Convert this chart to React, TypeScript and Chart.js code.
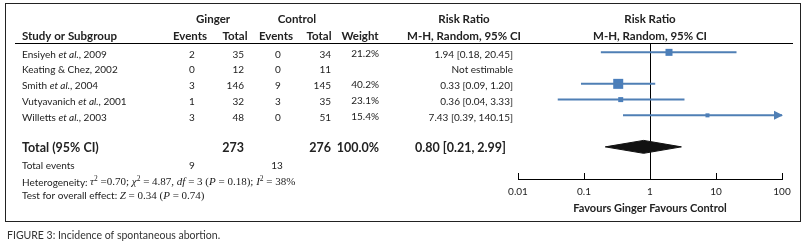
import { useEffect, useRef } from 'react';
import { Chart, registerables } from 'chart.js';

Chart.register(...registerables);

// ---------------- data ----------------
const studies = [
  'Ensiyeh et al., 2009',
  'Keating & Chez, 2002',
  'Smith et al., 2004',
  'Vutyavanich et al., 2001',
  'Willetts et al., 2003',
];
const gingerEvents = [2, 0, 3, 1, 3];
const gingerTotal = [35, 12, 146, 32, 48];
const controlEvents = [0, 0, 9, 3, 0];
const controlTotal = [34, 11, 145, 35, 51];
const weights: (number | null)[] = [21.2, null, 40.2, 23.1, 15.4];
const riskRatio: (number | null)[] = [1.94, null, 0.33, 0.36, 7.43];
const ciLower: (number | null)[] = [0.18, null, 0.09, 0.04, 0.39];
const ciUpper: (number | null)[] = [20.45, null, 1.2, 3.33, 140.15];

const pooledRR = 0.8;
const pooledLower = 0.21;
const pooledUpper = 2.99;
const totalGinger = 273;
const totalControl = 276;
const totalWeight = 100.0;
const totalEventsGinger = 9;
const totalEventsControl = 13;
const tau2 = 0.7;
const chi2 = 4.87;
const hetDf = 3;
const hetP = 0.18;
const iSquared = 38;
const zValue = 0.34;
const zP = 0.74;

const tickValues = [0.01, 0.1, 1, 10, 100];
const tickLabels = ['0.01', '0.1', '1', '10', '100'];
const axisTitle = 'Favours Ginger Favours Control';
const caption = 'FIGURE 3: Incidence of spontaneous abortion.';

// ---------------- style ----------------
const boxSide = [7, 0, 10, 5, 4];
const SQUARE_BLUE = '#4a7ebb';
const LINE_BLUE = '#4f7fb5';
const TEXT = '#222';
const TOTAL_ROW = 6;
const DIAMOND_HALF = 0.41;
const SANS = 'Lato';
const SERIF = '"Liberation Serif"';

type Seg = { t: string; font: string; dy?: number; w?: number };

function drawRich(ctx: CanvasRenderingContext2D, segs: Seg[], x: number, y: number, align: 'left' | 'center' | 'right' = 'left') {
  let total = 0;
  segs.forEach((s) => {
    ctx.font = s.font;
    s.w = ctx.measureText(s.t).width;
    total += s.w;
  });
  let cx = align === 'right' ? x - total : align === 'center' ? x - total / 2 : x;
  ctx.textAlign = 'left';
  ctx.textBaseline = 'middle';
  segs.forEach((s) => {
    ctx.font = s.font;
    ctx.fillText(s.t, cx, y + (s.dy || 0));
    cx += s.w || 0;
  });
}

function txt(ctx: CanvasRenderingContext2D, t: string, font: string, x: number, y: number, align: 'left' | 'center' | 'right' = 'left') {
  drawRich(ctx, [{ t, font }], x, y, align);
}

const fRow = `10px ${SANS}`;
const fRowI = `italic 10px ${SANS}`;
const fHead = `bold 11.5px ${SANS}`;
const fBold = `bold 12.5px ${SANS}`;
const fRR = `10px ${SANS}`;

function studySegs(name: string): Seg[] {
  const idx = name.indexOf('et al.');
  if (idx < 0) return [{ t: name, font: fRow }];
  return [
    { t: name.slice(0, idx), font: fRow },
    { t: 'et al.', font: fRowI },
    { t: name.slice(idx + 6), font: fRow },
  ];
}

const forestText = {
  id: 'forestText',
  afterDraw(chart: any) {
    const ctx: CanvasRenderingContext2D = chart.ctx;
    const ys = chart.scales.y;
    const xs = chart.scales.x;
    const area = chart.chartArea;
    ctx.save();

    // frame
    ctx.strokeStyle = '#222';
    ctx.lineWidth = 1;
    ctx.strokeRect(5.5, 3.5, 795, 218);
    // header rule
    ctx.beginPath();
    ctx.moveTo(15, 43.5);
    ctx.lineTo(793, 43.5);
    ctx.strokeStyle = '#000';
    ctx.stroke();

    // upward tick marks
    ctx.beginPath();
    xs.ticks.forEach((_t: any, i: number) => {
      const px = Math.round(xs.getPixelForTick(i)) + 0.5;
      ctx.moveTo(px, area.bottom - 6);
      ctx.lineTo(px, area.bottom);
    });
    ctx.stroke();

    // arrows for CIs beyond axis
    ctx.fillStyle = LINE_BLUE;
    studies.forEach((_s, i) => {
      const up = ciUpper[i];
      if (up != null && up > xs.max) {
        const tip = xs.getPixelForValue(xs.max) + 1;
        const y = ys.getPixelForValue(i);
        ctx.beginPath();
        ctx.moveTo(tip, y);
        ctx.lineTo(tip - 9, y - 4.5);
        ctx.lineTo(tip - 9, y + 4.5);
        ctx.closePath();
        ctx.fill();
      }
    });

    ctx.fillStyle = TEXT;
    const mid = (area.left + area.right) / 2;
    // headers
    txt(ctx, 'Ginger', fHead, 213, 19.5, 'center');
    txt(ctx, 'Control', fHead, 297, 19.5, 'center');
    txt(ctx, 'Risk Ratio', fHead, 464, 19.5, 'center');
    txt(ctx, 'Risk Ratio', fHead, mid, 19.5, 'center');
    txt(ctx, 'Study or Subgroup', fHead, 22, 36);
    txt(ctx, 'Events', fHead, 190, 36, 'center');
    txt(ctx, 'Total', fHead, 235, 36, 'center');
    txt(ctx, 'Events', fHead, 276, 36, 'center');
    txt(ctx, 'Total', fHead, 319, 36, 'center');
    txt(ctx, 'Weight', fHead, 360, 36, 'center');
    txt(ctx, 'M-H, Random, 95% CI', fHead, 464, 36, 'center');
    txt(ctx, 'M-H, Random, 95% CI', fHead, mid, 36, 'center');

    // study rows
    studies.forEach((name, i) => {
      const y = ys.getPixelForValue(i) + 2;
      drawRich(ctx, studySegs(name), 22, y);
      txt(ctx, String(gingerEvents[i]), fRow, 192, y, 'center');
      txt(ctx, String(gingerTotal[i]), fRow, 244, y, 'right');
      txt(ctx, String(controlEvents[i]), fRow, 278, y, 'center');
      txt(ctx, String(controlTotal[i]), fRow, 331, y, 'right');
      const w = weights[i];
      if (w != null) txt(ctx, w.toFixed(1) + '%', fRow, 379, y - 1, 'right');
      const rr = riskRatio[i];
      const s = rr == null ? 'Not estimable' : `${rr.toFixed(2)} [${(ciLower[i] as number).toFixed(2)}, ${(ciUpper[i] as number).toFixed(2)}]`;
      txt(ctx, s, fRR, 513, y, 'right');
    });

    // total row
    const ty = ys.getPixelForValue(TOTAL_ROW) + 1.5;
    txt(ctx, 'Total (95% CI)', fBold, 22, ty);
    txt(ctx, String(totalGinger), fBold, 244, ty, 'right');
    txt(ctx, String(totalControl), fBold, 331, ty, 'right');
    txt(ctx, totalWeight.toFixed(1) + '%', fBold, 379, ty, 'right');
    txt(ctx, `${pooledRR.toFixed(2)} [${pooledLower.toFixed(2)}, ${pooledUpper.toFixed(2)}]`, fBold, 506, ty, 'right');

    // footer
    txt(ctx, 'Total events', fRow, 22, 166);
    txt(ctx, String(totalEventsGinger), fRow, 192, 166, 'center');
    txt(ctx, String(totalEventsControl), fRow, 277, 166, 'center');

    const sr = `11px ${SERIF}`;
    const si = `italic 11px ${SERIF}`;
    const sup = `7.5px ${SERIF}`;
    drawRich(ctx, [
      { t: 'Heterogeneity: ', font: fRow },
      { t: 'τ', font: si },
      { t: '2', font: sup, dy: -3.5 },
      { t: ' =' + tau2.toFixed(2) + '; ', font: sr },
      { t: 'χ', font: si },
      { t: '2', font: sup, dy: -3.5 },
      { t: ' = ' + chi2.toFixed(2) + ', ', font: sr },
      { t: 'df', font: si },
      { t: ' = ' + hetDf + ' (', font: sr },
      { t: 'P', font: si },
      { t: ' = ' + hetP.toFixed(2) + '); ', font: sr },
      { t: 'I', font: si },
      { t: '2', font: sup, dy: -3.5 },
      { t: ' = ' + iSquared + '%', font: sr },
    ], 22, 182.5);
    drawRich(ctx, [
      { t: 'Test for overall effect: ', font: fRow },
      { t: 'Z', font: si },
      { t: ' = ' + zValue.toFixed(2) + ' (', font: sr },
      { t: 'P', font: si },
      { t: ' = ' + zP.toFixed(2) + ')', font: sr },
    ], 22, 196);

    // caption
    ctx.fillStyle = '#333';
    txt(ctx, caption, `10.5px ${SANS}`, 7, 236);

    ctx.restore();
  },
};

export default function App() {
  const ref = useRef<HTMLCanvasElement | null>(null);

  useEffect(() => {
    document.body.style.margin = '0';
    const canvas = ref.current;
    if (!canvas) return;

    const xMax = tickValues[tickValues.length - 1];
    const ciSets: any[] = [];
    studies.forEach((_s, i) => {
      const lo = ciLower[i];
      const hi = ciUpper[i];
      if (lo == null || hi == null) return;
      ciSets.push({
        showLine: true,
        data: [
          { x: lo, y: i },
          { x: Math.min(hi, xMax), y: i },
        ],
        borderColor: LINE_BLUE,
        borderWidth: 2,
        pointRadius: 0,
        fill: false,
      });
    });

    const squares = {
      data: studies
        .map((_s, i) => ({ x: riskRatio[i], y: i }))
        .filter((p) => p.x != null),
      pointStyle: 'rect',
      backgroundColor: SQUARE_BLUE,
      borderWidth: 0,
      pointBorderWidth: 0,
      pointRadius: (c: any) => (c.raw ? boxSide[c.raw.y] / Math.SQRT2 : 0),
    };

    const diamondTop = {
      showLine: true,
      data: [
        { x: pooledLower, y: TOTAL_ROW },
        { x: pooledRR, y: TOTAL_ROW - DIAMOND_HALF },
        { x: pooledUpper, y: TOTAL_ROW },
      ],
      borderColor: '#111',
      backgroundColor: '#111',
      borderWidth: 1,
      pointRadius: 0,
      fill: '+1',
    };
    const diamondBottom = {
      showLine: true,
      data: [
        { x: pooledLower, y: TOTAL_ROW },
        { x: pooledRR, y: TOTAL_ROW + DIAMOND_HALF },
        { x: pooledUpper, y: TOTAL_ROW },
      ],
      borderColor: '#111',
      backgroundColor: '#111',
      borderWidth: 1,
      pointRadius: 0,
      fill: false,
    };

    const chart = new Chart(canvas, {
      type: 'scatter',
      data: { datasets: [...ciSets, squares, diamondTop, diamondBottom] as any },
      options: {
        animation: false,
        responsive: false,
        events: [],
        layout: { padding: { left: 518, right: 20, top: 44, bottom: 23 } },
        plugins: { legend: { display: false }, tooltip: { enabled: false } },
        scales: {
          x: {
            type: 'logarithmic',
            min: tickValues[0],
            max: xMax,
            position: 'bottom',
            afterBuildTicks: (scale: any) => {
              scale.ticks = tickValues.map((v) => ({ value: v }));
            },
            afterFit: (scale: any) => {
              scale.height = 40;
            },
            ticks: {
              callback: (_v: any, i: number) => tickLabels[i],
              padding: 7,
              color: TEXT,
              font: { family: SANS, size: 10 },
              maxRotation: 0,
              autoSkip: false,
            },
            grid: {
              display: true,
              drawOnChartArea: true,
              drawTicks: false,
              lineWidth: 1,
              color: (c: any) => (c.tick && c.tick.value === 1 ? '#000' : 'rgba(0,0,0,0)'),
            },
            border: { display: true, color: '#000', width: 1 },
            title: {
              display: true,
              text: axisTitle,
              color: TEXT,
              font: { family: SANS, size: 11, weight: 'bold' },
              padding: { top: 0, bottom: 4 },
            },
          },
          y: {
            type: 'linear',
            display: false,
            reverse: true,
            min: -0.53,
            max: 8.04,
          },
        },
      },
      plugins: [forestText],
    } as any);

    return () => chart.destroy();
  }, []);

  return (
    <div style={{ width: 802, height: 242, position: 'relative', background: '#fff' }}>
      <canvas ref={ref} width={802} height={242} style={{ display: 'block' }} />
    </div>
  );
}
